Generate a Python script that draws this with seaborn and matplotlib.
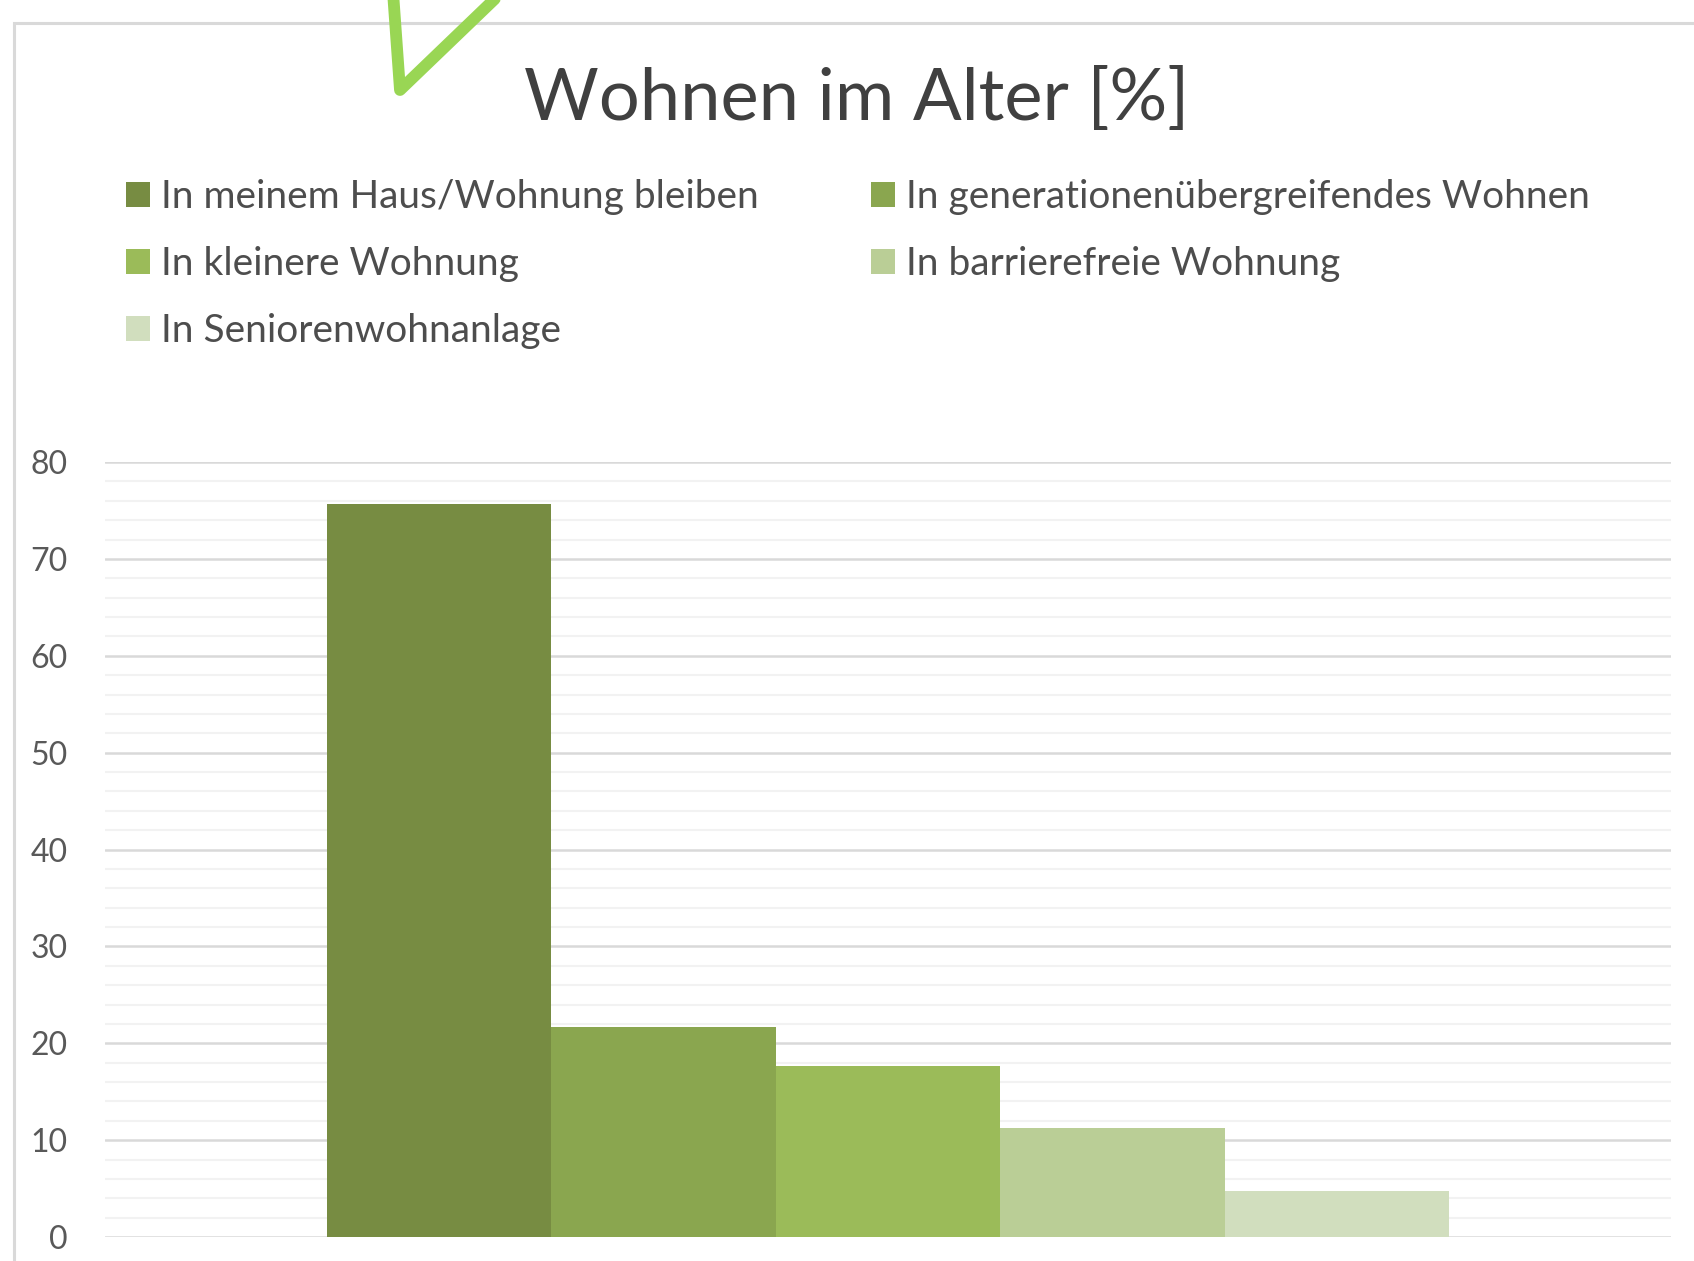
import matplotlib
matplotlib.use("Agg")
import matplotlib.pyplot as plt
import matplotlib.patches as mpatches
from matplotlib.lines import Line2D
import seaborn as sns
import pandas as pd

# ---- data ----
series = [
    "In meinem Haus/Wohnung bleiben",
    "In generationenübergreifendes Wohnen",
    "In kleinere Wohnung",
    "In barrierefreie Wohnung",
    "In Seniorenwohnanlage",
]
values = [75.7, 21.7, 17.7, 11.3, 4.8]
colors = ["#778C42", "#8AA64F", "#9BBB59", "#BACE96", "#D1DEBE"]
yticks = [0, 10, 20, 30, 40, 50, 60, 70, 80]
title = "Wohnen im Alter [%]"

sns.set_theme(style="white")
plt.rcParams["font.family"] = ["Lato", "DejaVu Sans"]

W, H = 1694, 1261
fig = plt.figure(figsize=(W / 100, H / 100), dpi=100)
fig.patch.set_facecolor("white")

def fx(x):
    return x / W

def fy(y):
    return 1 - y / H

# chart border (cropped on right/bottom)
fig.patches.append(mpatches.Rectangle((fx(14), fy(1300)), fx(1800) - fx(14), fy(23) - fy(1300),
                                      transform=fig.transFigure, fill=False,
                                      edgecolor="#D9D9D9", linewidth=2.2, zorder=0))

ax = fig.add_axes([fx(105), fy(1237), fx(1671) - fx(105), fy(462) - fy(1237)])

df = pd.DataFrame({"group": [""] * len(series), "series": series, "value": values})
sns.barplot(data=df, x="group", y="value", hue="series", hue_order=series,
            palette=colors, saturation=1, width=0.7165, gap=0, ax=ax,
            legend=False, edgecolor="none", linewidth=0)

ax.set_ylim(0, 80)
ax.set_xlim(-0.5, 0.5)
ax.set_yticks(yticks)
ax.set_yticks(range(0, 81, 2), minor=True)
ax.grid(False)
ax.grid(True, which="minor", axis="y", color="#F2F2F2", linewidth=1.5)
ax.grid(True, which="major", axis="y", color="#D9D9D9", linewidth=1.8)
ax.set_axisbelow(True)
for s in ax.spines.values():
    s.set_visible(False)
ax.set_xlabel("")
ax.set_ylabel("")
ax.set_xticks([])
ax.tick_params(axis="y", which="both", length=0, pad=27, labelsize=23, labelcolor="#595959")
ax.set_facecolor("none")

# title
fig.text(fx(857), fy(100), title, ha="center", va="center", fontsize=52,
         color="#404040", fontweight="normal")

# legend (row-major in two columns)
handles = [mpatches.Patch(facecolor=c, edgecolor="none") for c in colors]
leg_kw = dict(frameon=False, fontsize=28, handlelength=0.62, handleheight=0.6,
              handletextpad=0.28, labelspacing=0.80, borderpad=0, borderaxespad=0,
              labelcolor="#4D4D4D")
leg1 = fig.legend([handles[0], handles[2], handles[4]], [series[0], series[2], series[4]],
                  loc="upper left", bbox_to_anchor=(fx(126), fy(179)), **leg_kw)
leg2 = fig.legend([handles[1], handles[3]], [series[1], series[3]],
                  loc="upper left", bbox_to_anchor=(fx(871), fy(179)), **leg_kw)

# decorative check mark (partially cropped at top)
fig.lines.append(Line2D([fx(393), fx(400), fx(502)], [fy(-8), fy(90), fy(-8)],
                        transform=fig.transFigure, color="#99D654", linewidth=8.5,
                        solid_joinstyle="round", solid_capstyle="round"))

fig.savefig("out.png", dpi=100, facecolor="white")
